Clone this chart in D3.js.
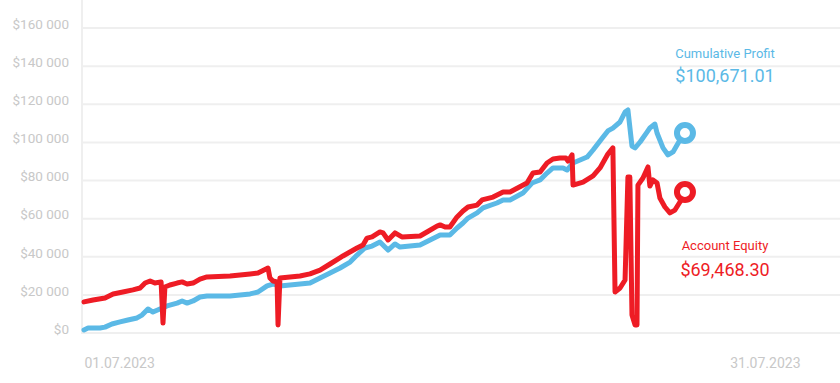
<!DOCTYPE html>
<html>
<head>
<meta charset="utf-8">
<script src="https://cdn.jsdelivr.net/npm/d3@7"></script>
<style>
  body { margin: 0; background: #fff; }
  svg { display: block; font-family: Roboto, "Noto Sans", sans-serif; }
</style>
</head>
<body>
<svg id="chart" width="840" height="383"></svg>
<script>
// day of July (fractional) and dollar values
var profitDays = [1.00, 1.17, 1.67, 1.88, 2.17, 2.51, 2.84, 3.22, 3.43, 3.68, 3.89, 4.18, 4.48, 4.90, 5.11, 5.32, 5.57, 5.86, 6.15, 7.12,
  7.96, 8.29, 8.67, 8.92, 9.21, 10.05, 10.47, 10.89, 11.31, 11.73, 12.15, 12.44, 12.77, 13.07, 13.40, 13.61, 13.74, 14.03, 14.24, 15.08,
  15.50, 15.92, 16.33, 16.63, 16.88, 17.09, 17.47, 17.72, 18.30, 18.56, 18.85, 19.39, 19.77, 20.11, 20.40, 20.65, 21.07, 21.24, 21.49, 22.08,
  22.33, 22.75, 22.95, 23.16, 23.46, 23.67, 23.79, 23.96, 24.09, 24.30, 24.59, 24.71, 24.92, 25.01, 25.26, 25.47, 25.68, 25.97, 26.18];
var profitValues = [1600, 2600, 2600, 3100, 4700, 5800, 6800, 7900, 9400, 12600, 11000, 12600, 14200, 15700, 16800, 15700, 16800, 18900, 19400, 19400,
  20500, 21500, 24700, 25700, 24700, 25700, 26200, 28900, 31500, 34100, 37200, 40900, 44600, 45600, 47700, 45100, 43500, 46700, 45100, 46200,
  48800, 51400, 51400, 55100, 57700, 60300, 63000, 65600, 68200, 69800, 69800, 73400, 78700, 80300, 83900, 86600, 86600, 85500, 89200, 92300,
  96000, 102800, 106000, 107500, 110700, 115900, 117000, 98100, 97100, 100200, 105400, 107500, 109600, 104900, 97100, 93400, 95000, 101200, 104900];

var equityDays = [1.00, 1.38, 1.88, 2.22, 2.63, 3.05, 3.35, 3.56, 3.77, 3.97, 4.23, 4.31, 4.39, 4.60, 4.90, 5.11, 5.32, 5.57, 5.86, 6.15,
  7.12, 7.96, 8.29, 8.71, 8.79, 8.92, 9.09, 9.13, 9.21, 10.05, 10.47, 10.89, 11.31, 11.85, 12.44, 12.69, 12.86, 13.07, 13.40, 13.53,
  13.74, 14.03, 14.32, 15.08, 15.37, 15.79, 15.92, 16.13, 16.33, 16.63, 16.88, 17.09, 17.47, 17.68, 18.14, 18.56, 18.85, 19.56, 19.81, 20.11,
  20.40, 20.65, 20.94, 21.19, 21.28, 21.45, 21.49, 21.91, 22.33, 22.62, 22.95, 23.16, 23.25, 23.46, 23.67, 23.79, 23.87, 23.96, 24.09, 24.17,
  24.21, 24.42, 24.63, 24.71, 24.84, 25.01, 25.13, 25.34, 25.55, 25.76, 25.97, 26.18];
var equityValues = [16300, 17300, 18400, 20500, 21500, 22600, 23600, 26200, 27300, 26200, 26800, 5200, 24100, 25200, 26200, 26800, 25700, 26200, 28300, 29400,
  29900, 31000, 31500, 34100, 28900, 27300, 26800, 4200, 28900, 29900, 31000, 33000, 36200, 40400, 44600, 46200, 49800, 50400, 53000, 52500,
  48800, 52500, 50400, 50900, 53000, 56100, 56700, 55600, 55600, 60900, 64000, 66100, 67100, 69800, 71300, 74000, 74000, 78700, 83900, 84500,
  89200, 91300, 91800, 91800, 90200, 93400, 77600, 79200, 82400, 86600, 93900, 97100, 21500, 23600, 27800, 81800, 81800, 9400, 4200, 4200,
  77600, 81300, 87100, 77100, 80300, 78700, 70800, 66100, 63000, 64500, 68700, 74000];

var yTicks = [0, 20000, 40000, 60000, 80000, 100000, 120000, 140000, 160000];
var xTickDays = [1, 31];

var profitLabel = "Cumulative Profit";
var profitTotal = "$100,671.01";
var equityLabel = "Account Equity";
var equityTotal = "$69,468.30";

var blue = "#5bb9e6";
var red = "#ee1c25";

function dayToDate(day) {
  return new Date(2023, 6, 1).getTime() + (day - 1) * 86400000;
}

var svg = d3.select("#chart");

var xScale = d3.scaleTime()
  .domain([dayToDate(1), dayToDate(31)])
  .range([84, 800]);

var yScale = d3.scaleLinear()
  .domain([0, 160000])
  .range([333, 28]);

// grid lines across the whole width
svg.append("g")
  .selectAll("line")
  .data(yTicks)
  .join("line")
  .attr("x1", 82)
  .attr("x2", 840)
  .attr("y1", d => yScale(d))
  .attr("y2", d => yScale(d))
  .attr("stroke", "#efefef")
  .attr("stroke-width", 2);

svg.append("line")
  .attr("x1", 82).attr("x2", 82)
  .attr("y1", 0).attr("y2", yScale(0) + 1)
  .attr("stroke", "#efefef")
  .attr("stroke-width", 2);

// y axis labels, space as thousands separator (sit a bit above the grid line)
var yAxis = svg.append("g")
  .attr("transform", "translate(82,-4)")
  .call(d3.axisLeft(yScale)
    .tickValues(yTicks)
    .tickSize(0)
    .tickPadding(13)
    .tickFormat(d => "$" + d3.format(",")(d).replace(/,/g, " "))
  );
yAxis.select(".domain").remove();
yAxis.selectAll("text")
  .attr("fill", "#c8c8c8")
  .style("font-size", "13.5px")
  .style("font-family", "Roboto");

// x axis: only first and last date
var xAxis = svg.append("g")
  .attr("transform", "translate(0,355)")
  .call(d3.axisBottom(xScale)
    .tickValues(xTickDays.map(dayToDate))
    .tickSize(0)
    .tickFormat(d3.timeFormat("%d.%m.%Y"))
  );
xAxis.select(".domain").remove();
xAxis.selectAll("text")
  .attr("fill", "#c8c8c8")
  .attr("y", 0)
  .attr("dy", "0.95em")
  .style("font-size", "14px")
  .style("font-family", "Roboto")
  .attr("text-anchor", (d, i) => i === 0 ? "start" : "end");

var line = d3.line()
  .x(d => xScale(dayToDate(d[0])))
  .y(d => yScale(d[1]));

var profitData = profitDays.map((d, i) => [d, profitValues[i]]);
var equityData = equityDays.map((d, i) => [d, equityValues[i]]);

var series = [
  { data: profitData, color: blue },
  { data: equityData, color: red }
];

svg.selectAll(".series")
  .data(series)
  .join("path")
  .attr("class", "series")
  .attr("d", d => line(d.data))
  .attr("fill", "none")
  .attr("stroke", d => d.color)
  .attr("stroke-width", 5)
  .attr("stroke-linejoin", "round")
  .attr("stroke-linecap", "round");

// end markers
svg.selectAll(".endpoint")
  .data(series)
  .join("circle")
  .attr("class", "endpoint")
  .attr("cx", d => xScale(dayToDate(d.data[d.data.length - 1][0])))
  .attr("cy", d => yScale(d.data[d.data.length - 1][1]))
  .attr("r", 8)
  .attr("fill", "#fff")
  .attr("stroke", d => d.color)
  .attr("stroke-width", 6);

// legend texts on the right
var labels = [
  { text: profitLabel, y: 58, size: 13, color: blue },
  { text: profitTotal, y: 82, size: 18, color: blue },
  { text: equityLabel, y: 250, size: 13, color: red },
  { text: equityTotal, y: 276, size: 18, color: red }
];

svg.selectAll(".legend")
  .data(labels)
  .join("text")
  .attr("class", "legend")
  .attr("x", 725)
  .attr("y", d => d.y)
  .attr("text-anchor", "middle")
  .attr("fill", d => d.color)
  .style("font-size", d => d.size + "px")
  .style("font-family", "Roboto")
  .text(d => d.text);
</script>
</body>
</html>
